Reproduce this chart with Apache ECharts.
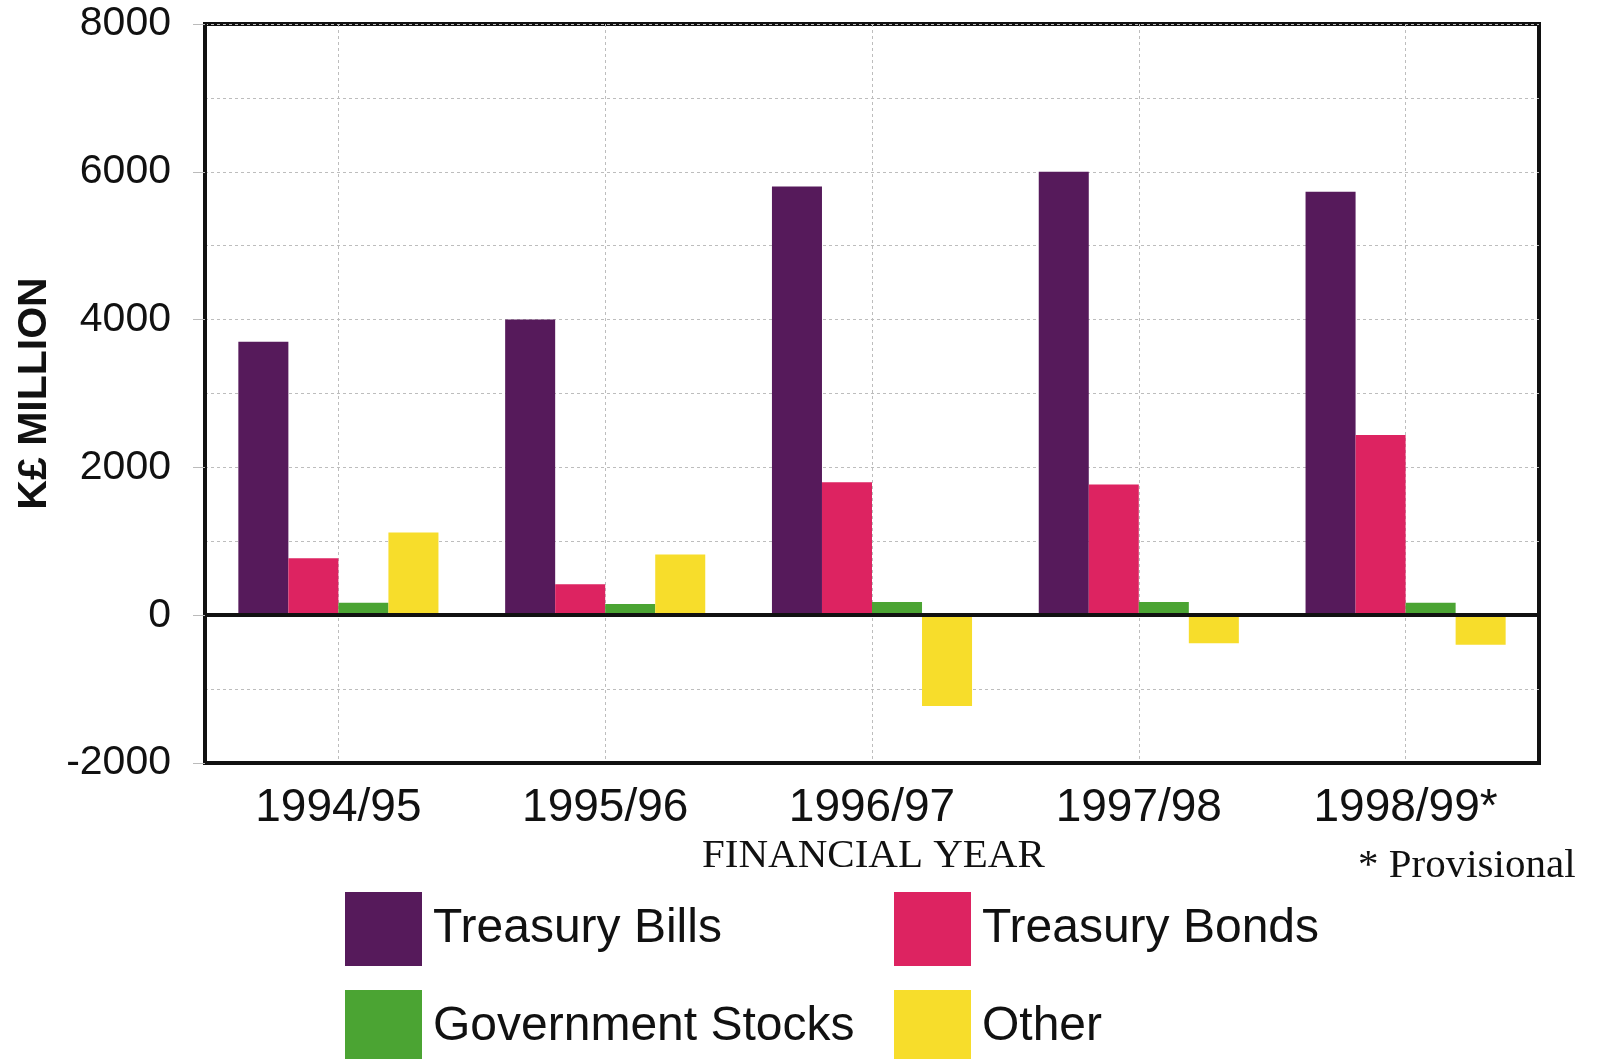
<!DOCTYPE html>
<html>
<head>
<meta charset="utf-8">
<script src="https://cdn.jsdelivr.net/npm/echarts@6/dist/echarts.min.js"></script>
<style>
html,body{margin:0;padding:0;background:#fff;}
#chart{width:1601px;height:1059px;}
</style>
</head>
<body>
<div id="chart"></div>
<script>
const categories = ['1994/95', '1995/96', '1996/97', '1997/98', '1998/99*'];
const treasuryBills = [3700, 4000, 5800, 6000, 5730];
const treasuryBonds = [770, 420, 1800, 1770, 2440];
const governmentStocks = [170, 150, 180, 180, 170];
const other = [1120, 820, -1230, -380, -400];
const yTicks = { min: -2000, max: 8000, interval: 2000 };

const colors = ['#561a5b', '#dd2361', '#4ba433', '#f7dd2b'];
const chart = echarts.init(document.getElementById('chart'));
const gridLine = { show: true, lineStyle: { color: '#bdbdbd', type: [3, 3], width: 1 } };

function legendItem(name, left, top) {
  return {
    data: [name],
    orient: 'horizontal', left: left, top: top,
    itemWidth: 77, itemHeight: 74,
    icon: 'rect', selectedMode: false,
    textStyle: { fontFamily: 'Liberation Sans', fontSize: 48, color: '#111', padding: [0, 0, 0, 6] }
  };
}

const option = {
  animation: false,
  backgroundColor: '#ffffff',
  color: colors,
  grid: { left: 205, right: 62, top: 24, bottom: 296, show: true, borderColor: '#111', borderWidth: 4, backgroundColor: 'transparent' },
  xAxis: {
    type: 'category',
    data: categories,
    axisLine: { onZero: false, lineStyle: { color: '#111', width: 4 } },
    axisTick: { show: false },
    splitLine: Object.assign({ alignWithLabel: true }, gridLine),
    axisLabel: { fontFamily: 'Liberation Sans', fontSize: 46, color: '#111', margin: 22 }
  },
  yAxis: {
    type: 'value',
    min: yTicks.min, max: yTicks.max, interval: yTicks.interval,
    axisLine: { show: true, lineStyle: { color: '#111', width: 4 } },
    axisTick: { show: true, length: 12, inside: false, lineStyle: { color: '#bbb' } },
    minorTick: { show: false, splitNumber: 2 },
    splitLine: gridLine,
    minorSplitLine: gridLine,
    axisLabel: { fontFamily: 'Liberation Sans', fontSize: 41, color: '#111', margin: 34, formatter: v => String(v) },
    name: 'K£ MILLION',
    nameLocation: 'middle',
    nameRotate: 90,
    nameGap: 146,
    nameTextStyle: { fontFamily: 'Liberation Sans', fontWeight: 'bold', fontSize: 41, color: '#111' }
  },
  legend: [
    legendItem('Treasury Bills', 340, 887),
    legendItem('Treasury Bonds', 889, 887),
    legendItem('Government Stocks', 340, 985),
    legendItem('Other', 889, 985)
  ],
  graphic: [
    { type: 'text', left: 702, top: 836, style: { text: 'FINANCIAL YEAR', font: '41px "Liberation Serif"', fill: '#111' } },
    { type: 'text', left: 1358, top: 846, style: { text: '* Provisional', font: '41px "Liberation Serif"', fill: '#111' } }
  ],
  series: [
    { name: 'Treasury Bills', type: 'bar', data: treasuryBills, barGap: '0%', barCategoryGap: '25%',
      markLine: { silent: true, symbol: 'none', label: { show: false }, lineStyle: { color: '#111', width: 4, type: 'solid' }, data: [{ yAxis: 0 }] } },
    { name: 'Treasury Bonds', type: 'bar', data: treasuryBonds, barGap: '0%', barCategoryGap: '25%' },
    { name: 'Government Stocks', type: 'bar', data: governmentStocks, barGap: '0%', barCategoryGap: '25%' },
    { name: 'Other', type: 'bar', data: other, barGap: '0%', barCategoryGap: '25%' }
  ]
};
chart.setOption(option);
</script>
</body>
</html>
